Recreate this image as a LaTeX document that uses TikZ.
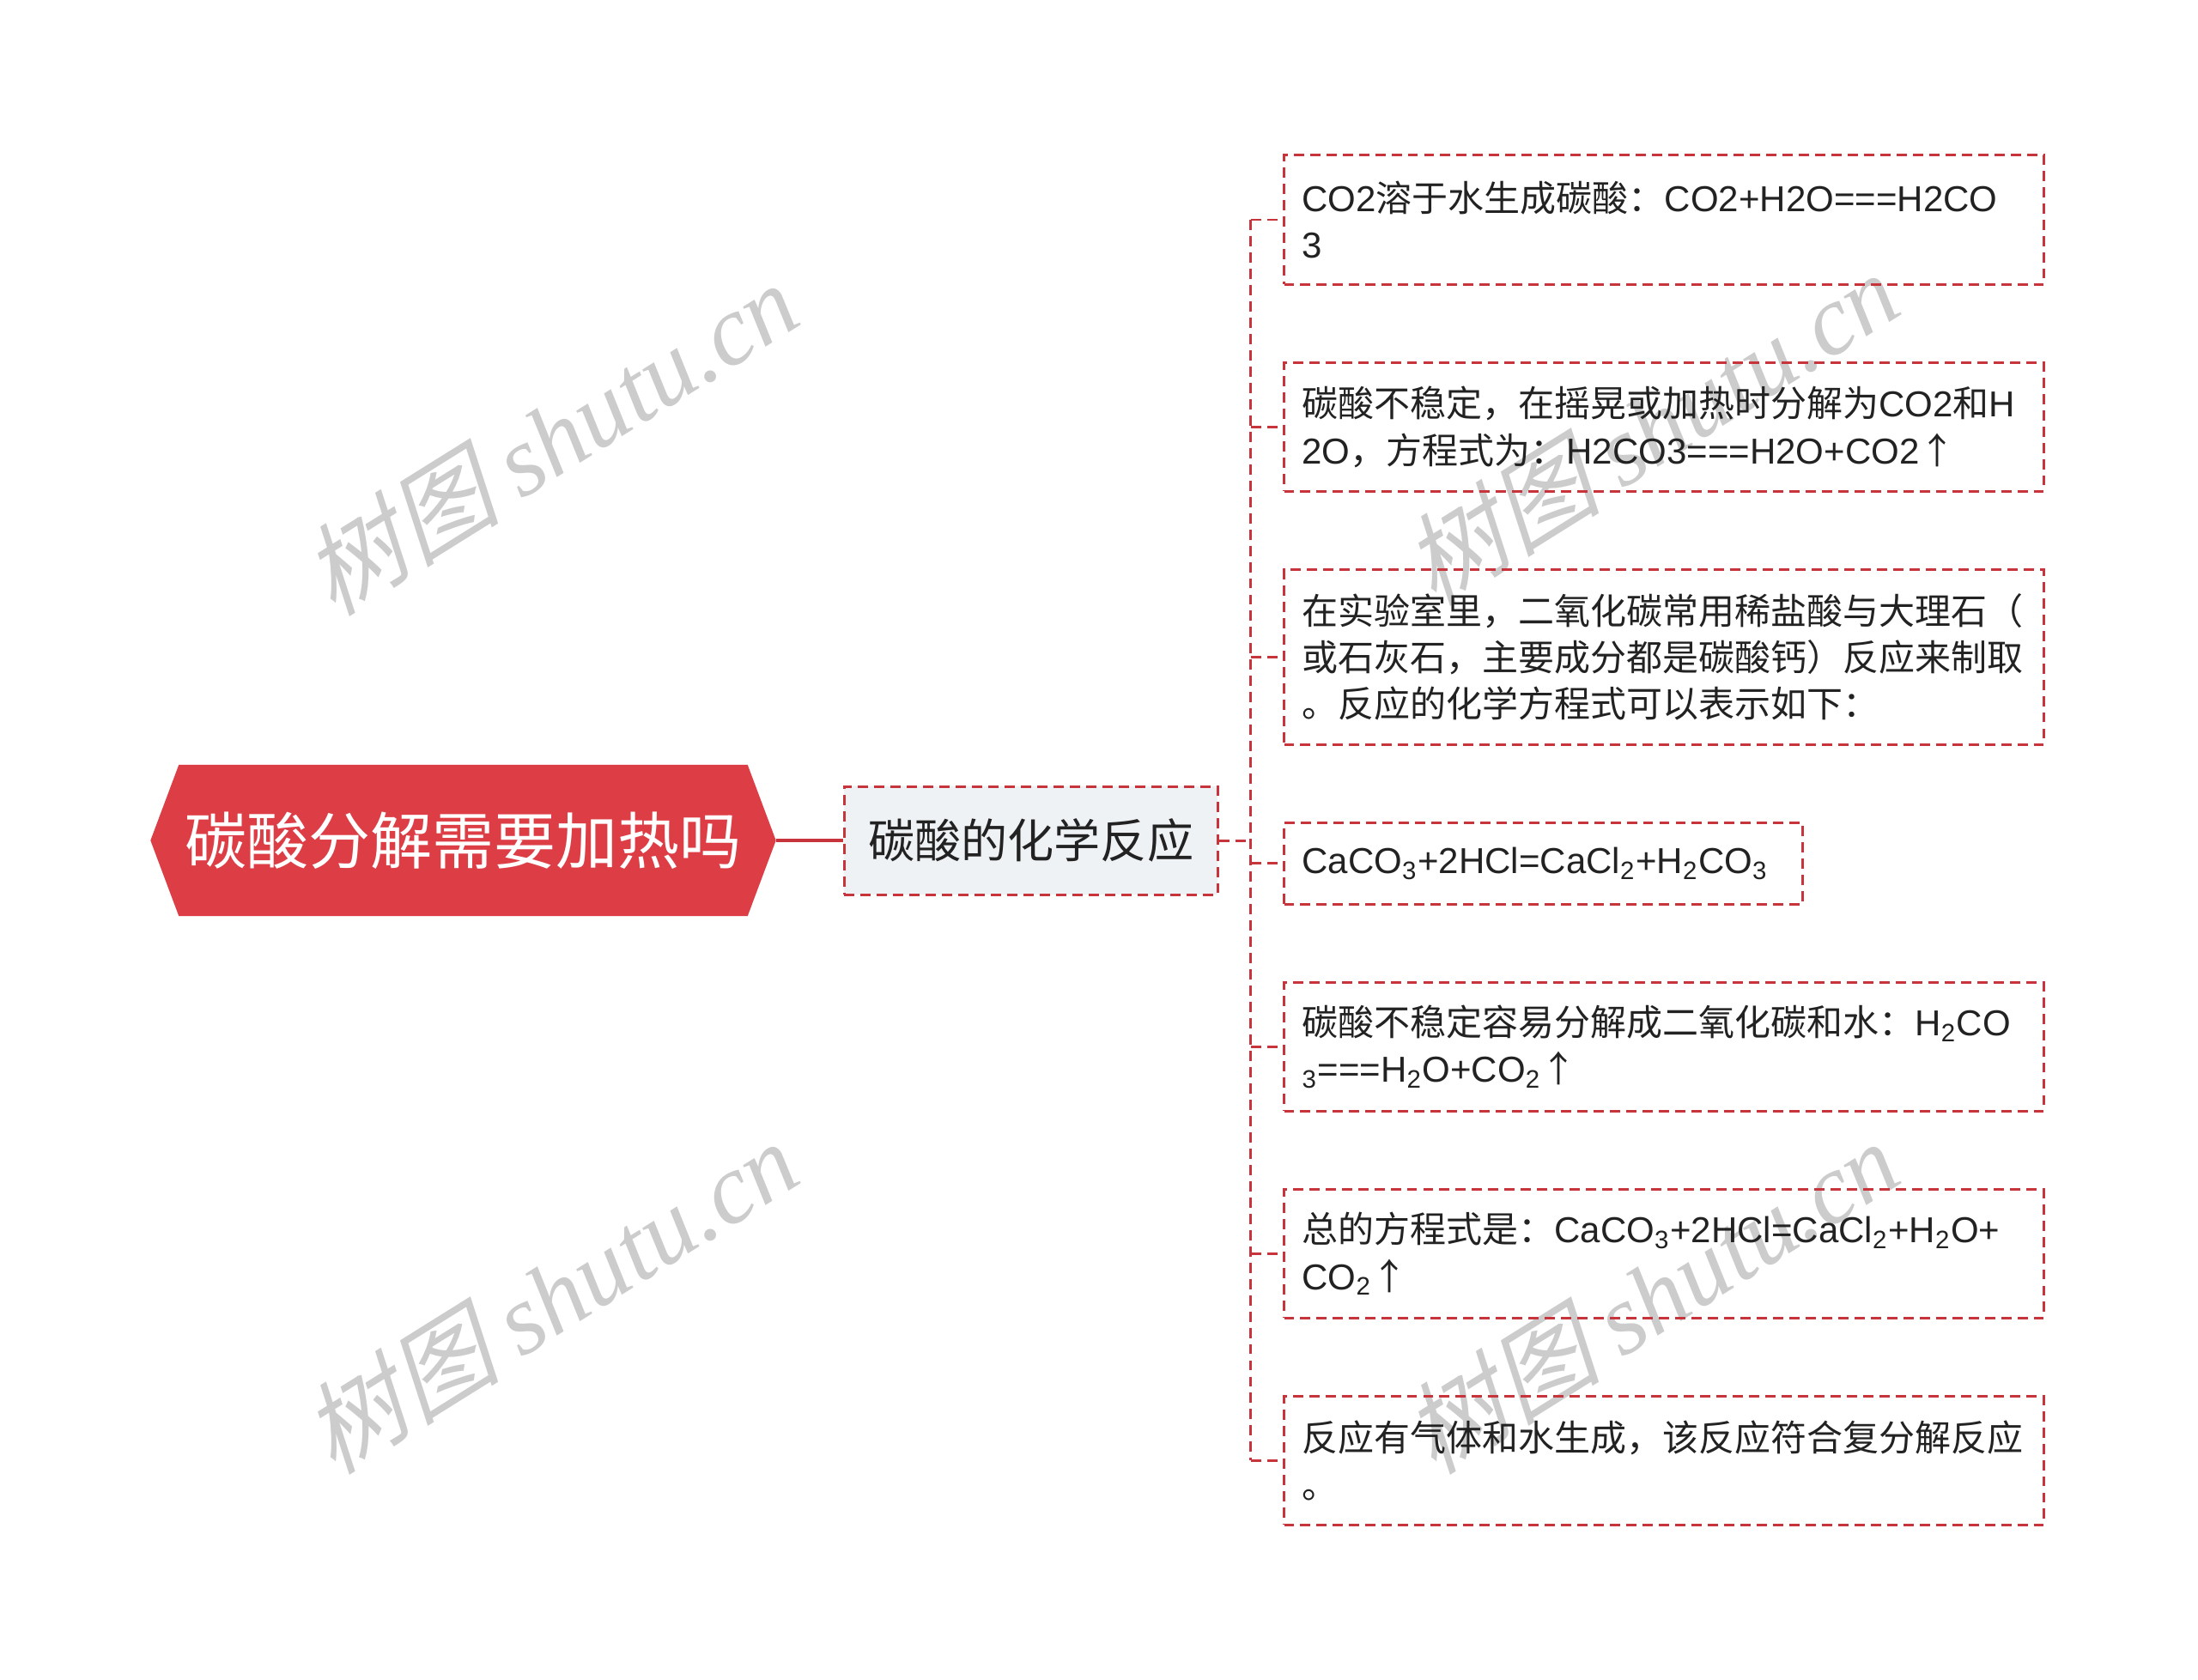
\documentclass[tikz,border=0pt]{standalone}
\usepackage{fontspec}
\setmainfont{Noto Sans CJK SC}
\newfontfamily\latinfont{Liberation Sans}
\newfontfamily\wmlatin{Liberation Serif}
\newfontfamily\wmcjk{Noto Sans CJK SC}[FakeSlant=0.25]
\usetikzlibrary{positioning,backgrounds}
\definecolor{rootred}{RGB}{221,62,70}
\definecolor{linered}{RGB}{200,52,60}
\definecolor{subfill}{RGB}{239,242,245}
\definecolor{inkgray}{RGB}{34,34,34}
\newcommand{\lt}[1]{{\latinfont #1}}
\newcommand{\sbs}[1]{\textsubscript{#1}}

\begin{document}
\begin{tikzpicture}[
  root/.style={rectangle, text=white, inner sep=0pt,
    minimum width=6.61cm, minimum height=1.75cm,
    font=\fontsize{20.5pt}{24pt}\selectfont},
  redash/.style={draw=linered, line width=0.85pt, dash pattern=on 3.4pt off 2pt},
  topic/.style={rectangle, redash, fill=subfill, text=inkgray,
    minimum width=4.35cm, minimum height=1.26cm,
    font=\fontsize{15.4pt}{18pt}\selectfont},
  leaf/.style={rectangle, redash, text=inkgray, align=left,
    text width=8.43cm, inner xsep=0.21cm, inner ysep=0pt, minimum height=1.5cm,
    font=\fontsize{11.95pt}{15.4pt}\selectfont},
  link/.style={redash},
  rootlink/.style={draw=linered, line width=1.1pt},
  stamp/.style={rotate=32, text=black!20, font=\fontsize{33pt}{38pt}\selectfont}
  ]
  \useasboundingbox (0,0) rectangle (25.6,-19.57);

  % watermarks
  \foreach \wx/\wy [count=\k] in {6.40/-5.10, 19.22/-4.98, 6.40/-15.10, 19.22/-15.10}
    \node[stamp] (stamp\k) at (\wx,\wy) {{\wmcjk 树图} {\wmlatin\itshape shutu.cn}};

  % main nodes
  \node[root] (root) at (5.395,-9.79) {碳酸分解需要加热吗};
  \node[topic, right=1.11cm of root] (sub) {碳酸的化学反应};
  \begin{scope}[on background layer]
    \fill[white] (0,0) rectangle (25.6,-19.57);
    \fill[rootred] (root.north west) -- (root.north east) -- ([xshift=0.33cm]root.east)
      -- (root.south east) -- (root.south west) -- ([xshift=-0.33cm]root.west) -- cycle;
  \end{scope}

  % leaves
  \node[leaf, minimum height=1.51cm, anchor=north west] (l1) at (14.94,-1.79)
    {\lt{CO2}溶于水生成碳酸：\lt{CO2+H2O===H2CO}\\\lt{3}};
  \node[leaf, below=0.88cm of l1.south west, anchor=north west] (l2)
    {碳酸不稳定，在摇晃或加热时分解为\lt{CO2}和\lt{H}\\\lt{2O}，方程式为：\lt{H2CO3===H2O+CO2}↑};
  \node[leaf, minimum height=2.04cm, below=0.88cm of l2.south west, anchor=north west] (l3)
    {在实验室里，二氧化碳常用稀盐酸与大理石（\\或石灰石，主要成分都是碳酸钙）反应来制取\\。反应的化学方程式可以表示如下：};
  \node[leaf, text width=5.62cm, minimum height=0.95cm, below=0.88cm of l3.south west, anchor=north west] (l4)
    {\lt{CaCO\sbs{3}+2HCl=CaCl\sbs{2}+H\sbs{2}CO\sbs{3}}};
  \node[leaf, below=0.88cm of l4.south west, anchor=north west] (l5)
    {碳酸不稳定容易分解成二氧化碳和水：\lt{H\sbs{2}CO}\\\lt{\sbs{3}===H\sbs{2}O+CO\sbs{2}}↑};
  \node[leaf, below=0.88cm of l5.south west, anchor=north west] (l6)
    {总的方程式是：\lt{CaCO\sbs{3}+2HCl=CaCl\sbs{2}+H\sbs{2}O+}\\\lt{CO\sbs{2}}↑};
  \node[leaf, below=0.88cm of l6.south west, anchor=north west] (l7)
    {反应有气体和水生成，该反应符合复分解反应\\。};

  % connectors
  \draw[rootlink] ([xshift=0.33cm]root.east) -- (sub.west);
  \coordinate[right=0.37cm of sub.east] (fork);
  \draw[link] (sub.east) -- (fork);
  \draw[link] (fork |- l1.west) -- (fork |- l7.west);
  \foreach \i in {1,...,7}
    \draw[link] (fork |- l\i.west) -- (l\i.west);
\end{tikzpicture}
\end{document}
